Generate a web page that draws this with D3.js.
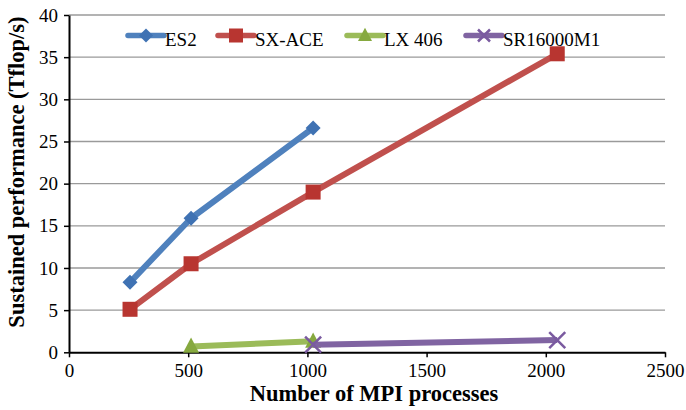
<!DOCTYPE html>
<html><head><meta charset="utf-8">
<script src="https://cdn.jsdelivr.net/npm/d3@7"></script>
<style>body{margin:0;background:#fff}svg{display:block;font-family:"Liberation Serif","Times New Roman",serif}</style>
</head><body>
<script>
const seriesNames = ["ES2", "SX-ACE", "LX 406", "SR16000M1"];
const colors = ["#4f81bd", "#c0504d", "#9bbb59", "#8064a2"];
const markers = ["diamond", "square", "triangle", "cross"];
const es2X = [256, 512, 1024];
const es2Y = [8.3, 15.9, 26.6];
const sxX = [256, 512, 1024, 2048];
const sxY = [5.1, 10.5, 19.0, 35.4];
const lxX = [512, 1024];
const lxY = [0.7, 1.3];
const srX = [1024, 2048];
const srY = [0.9, 1.45];
const xTicks = [0, 500, 1000, 1500, 2000, 2500];
const yTicks = [0, 5, 10, 15, 20, 25, 30, 35, 40];

const W = 686, H = 410;
const L = 69, R = 665, T = 15, B = 352.3;
const FONT = '"Liberation Serif", "Times New Roman", serif';
const svg = d3.select("body").append("svg").attr("width", W).attr("height", H);
const x = d3.scaleLinear().domain([0, 2500]).range([L, R]);
const y = d3.scaleLinear().domain([0, 40]).range([B, T]);

// gridlines
svg.append("g").selectAll("line").data(yTicks.filter(d => d > 0)).join("line")
  .attr("x1", L).attr("x2", R).attr("y1", d => y(d)).attr("y2", d => y(d))
  .attr("stroke", "#9a9a9a").attr("stroke-width", 1.3);

// axes
const xAxis = svg.append("g").attr("transform", `translate(0,${B})`)
  .call(d3.axisBottom(x).tickValues(xTicks).tickFormat(d3.format("d")).tickSize(5).tickSizeOuter(0).tickPadding(6));
const yAxis = svg.append("g").attr("transform", `translate(${L},0)`)
  .call(d3.axisLeft(y).tickValues(yTicks).tickFormat(d3.format("d")).tickSize(5).tickSizeOuter(0).tickPadding(6));
[xAxis, yAxis].forEach(a => {
  a.attr("font-family", FONT).attr("font-size", 19);
  a.select(".domain").attr("stroke", "#000").attr("stroke-width", 2);
  a.selectAll(".tick line").attr("stroke", "#000").attr("stroke-width", 1.5);
  a.selectAll("text").attr("fill", "#000");
});

// titles
svg.append("text").attr("x", 374).attr("y", 400.5).attr("text-anchor", "middle")
  .attr("font-family", FONT).attr("font-size", 22.5).attr("font-weight", "bold")
  .text("Number of MPI processes");
svg.append("text").attr("transform", `translate(24,172) rotate(-90)`)
  .attr("text-anchor", "middle")
  .attr("font-family", FONT).attr("font-size", 22.5).attr("font-weight", "bold")
  .text("Sustained performance (Tflop/s)");

function drawMarker(g, type, cx, cy, color, s) {
  if (type === "diamond") {
    g.append("path").attr("d", `M${cx},${cy - s}L${cx + s},${cy}L${cx},${cy + s}L${cx - s},${cy}Z`).attr("fill", color);
  } else if (type === "square") {
    g.append("rect").attr("x", cx - s).attr("y", cy - s).attr("width", 2 * s).attr("height", 2 * s).attr("fill", color);
  } else if (type === "triangle") {
    g.append("path").attr("d", `M${cx},${cy - s * 1.1}L${cx + s},${cy + s * 0.8}L${cx - s},${cy + s * 0.8}Z`).attr("fill", color);
  } else {
    g.append("path").attr("d", `M${cx - s},${cy - s}L${cx + s},${cy + s}M${cx - s},${cy + s}L${cx + s},${cy - s}`)
      .attr("stroke", color).attr("stroke-width", 2.5);
  }
}

const data = [[es2X, es2Y], [sxX, sxY], [lxX, lxY], [srX, srY]];
const markerColors = ["#3f72b3", "#b83530", "#86a93f", "#7a5aa0"];
const sizes = [7.5, 7.5, 8, 8];
const line = d3.line().x(d => x(d[0])).y(d => y(d[1]));
data.forEach(([xs, ys], i) => {
  const pts = xs.map((v, j) => [v, ys[j]]);
  const g = svg.append("g");
  g.append("path").datum(pts).attr("d", line).attr("fill", "none")
    .attr("stroke", colors[i]).attr("stroke-width", 6).attr("stroke-linejoin", "round");
  pts.forEach(p => drawMarker(g, markers[i], x(p[0]), y(p[1]), markerColors[i], sizes[i]));
});

// legend
const legendX = [128, 218, 347, 466];
const ly = 35.5;
seriesNames.forEach((name, i) => {
  const g = svg.append("g");
  g.append("line").attr("x1", legendX[i]).attr("x2", legendX[i] + 36).attr("y1", ly).attr("y2", ly)
    .attr("stroke", colors[i]).attr("stroke-width", 5.5).attr("stroke-linecap", "round");
  drawMarker(g, markers[i], legendX[i] + 18, ly, markerColors[i], markers[i] === "cross" ? 6 : 7);
  g.append("text").attr("x", legendX[i] + 37).attr("y", 45.5)
    .attr("font-family", FONT).attr("font-size", 19).text(name);
});
</script>
</body></html>
